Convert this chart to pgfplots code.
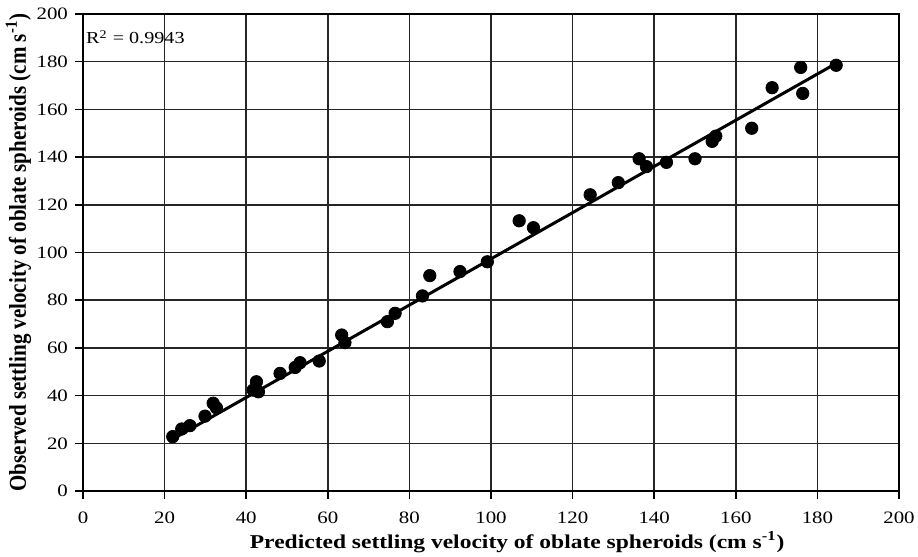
\documentclass[border=0pt]{standalone}
\usepackage{fontspec}
\setmainfont{Liberation Serif}
\newfontfamily\wide{Liberation Serif}[FakeStretch=1.2]
\usepackage{pgfplots}
\pgfplotsset{compat=1.18}
\begin{document}
\begin{tikzpicture}
\begin{axis}[
 scale only axis, width=408pt, height=238.5pt,
 xmin=0,xmax=200,ymin=0,ymax=200,
 xtick={0,20,...,200}, ytick={0,20,...,200},
 grid=major, grid style={black!85, line width=0.8pt},
 axis line style={black, line width=0.9pt},
 tick style={black, line width=0.8pt}, tick align=outside, major tick length=4pt,
 xtick pos=left, ytick pos=left,
 ticklabel style={font=\wide\fontsize{8.7}{10}\selectfont},
 xticklabel style={yshift=-3pt},
 /pgf/number format/assume math mode=true,
 xlabel={\wide\textbf{Predicted settling velocity of oblate spheroids (cm s\textsuperscript{-1})}},
 ylabel={\scalebox{1}[1.15]{\textbf{Observed settling velocity of oblate spheroids (cm s\textsuperscript{-1})}}},
 xlabel style={font=\fontsize{9.8}{11}\selectfont, at={(axis description cs:0.532,-0.1195)}, anchor=base, inner sep=0pt},
 ylabel style={font=\fontsize{10.5}{12}\selectfont, at={(axis description cs:-0.0699,0.5)}, anchor=base, inner sep=0pt},
]
\addplot[only marks, mark=*, mark size=3.1pt, black] coordinates {
(22.0,22.8) (24.2,26.0) (26.2,27.4) (29.9,31.4) (31.9,36.8) (32.7,34.9)
(41.7,42.3) (42.5,45.8) (43.0,41.6) (48.3,49.3) (52.0,51.8) (53.2,53.8)
(57.9,54.5) (63.4,65.4) (64.2,62.2) (74.6,71.0) (76.5,74.5) (83.2,81.8)
(85.0,90.3) (92.4,92.0) (99.1,96.1) (106.9,113.3) (110.4,110.4) (124.3,124.2)
(131.2,129.3) (136.3,139.3) (138.1,136.0) (143.0,137.8) (150.0,139.3)
(154.2,146.6) (155.1,148.8) (163.9,152.1) (168.9,169.1) (175.9,177.6)
(176.4,166.7) (184.6,178.5)
};
\addplot[black, line width=1.5pt] coordinates {(21.0,20.8) (184.6,179.3)};
\node[anchor=west, inner sep=1pt, font=\wide\fontsize{8.4}{9}\selectfont] at (axis cs:0.2,190.3) {R\textsuperscript{2} = 0.9943};
\end{axis}
\pgfresetboundingbox
\path[use as bounding box] ([xshift=-41.5pt,yshift=-32.5pt]current axis.south west) rectangle ([xshift=9.5pt,yshift=7pt]current axis.north east);
\end{tikzpicture}
\end{document}
